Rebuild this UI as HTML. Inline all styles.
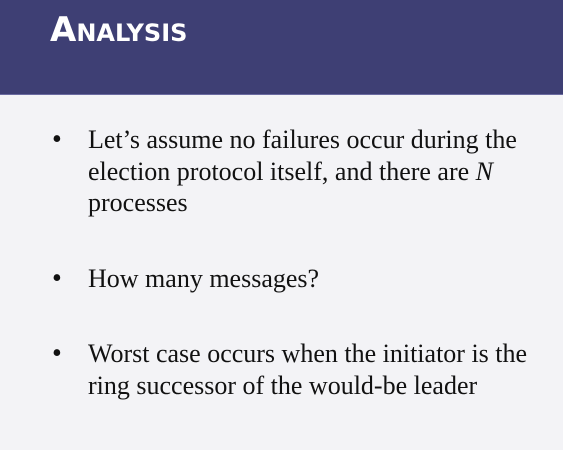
<!DOCTYPE html>
<html><head><style>
html,body{margin:0;padding:0}
body{width:563px;height:450px;background:#f3f3f6;position:relative;overflow:hidden;font-family:"Liberation Serif",serif;color:#111}
.hdr{position:absolute;left:0;top:0;width:563px;height:94px;background:#3e3f74;border-bottom:1px solid #6a6aa0}
.title{position:absolute;left:50px;top:10px;color:#fff;font-family:"DejaVu Sans","Liberation Sans",sans-serif;font-weight:bold;font-size:34px;font-variant:small-caps;line-height:40px}
.b{position:absolute;left:88px;font-size:26px;line-height:31.5px;width:450px}
.dot{position:absolute;left:-36px;top:0;font-size:28px}
</style></head><body>
<div class="hdr"><div class="title">Analysis</div></div>
<div class="b" style="top:124px"><span class="dot">•</span>Let’s assume no failures occur during the election protocol itself, and there are <i>N</i> processes</div>
<div class="b" style="top:263px"><span class="dot">•</span>How many messages?</div>
<div class="b" style="top:338px"><span class="dot">•</span>Worst case occurs when the initiator is the ring successor of the would-be leader</div>
</body></html>
